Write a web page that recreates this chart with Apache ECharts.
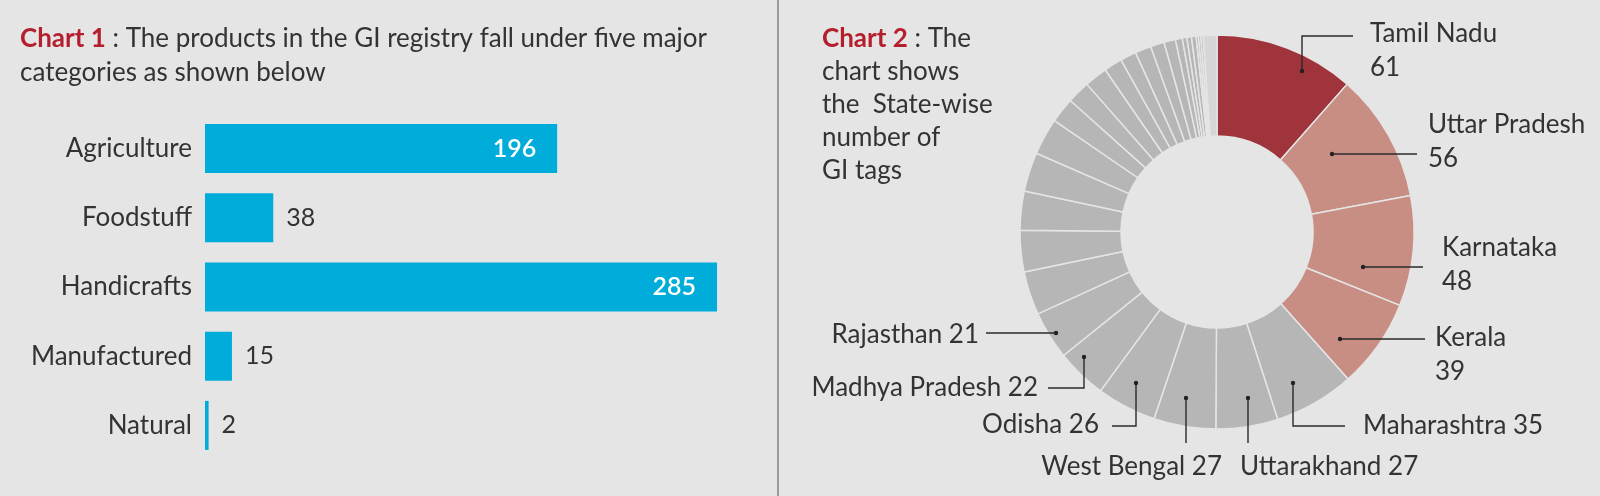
<!DOCTYPE html>
<html>
<head>
<meta charset="utf-8">
<script src="https://cdn.jsdelivr.net/npm/echarts@6/dist/echarts.min.js"></script>
<style>
html,body{margin:0;padding:0;background:#e5e5e5;}
#c{width:1600px;height:496px;}
</style>
</head>
<body>
<div id="c"></div>
<script>
// ---- Chart 1 data ----
const categories = ['Agriculture', 'Foodstuff', 'Handicrafts', 'Manufactured', 'Natural'];
const categoryCounts = [196, 38, 285, 15, 2];

// ---- Chart 2 data ----
const states = ['Tamil Nadu', 'Uttar Pradesh', 'Karnataka', 'Kerala', 'Maharashtra',
  'Uttarakhand', 'West Bengal', 'Odisha', 'Madhya Pradesh', 'Rajasthan',
  'Andhra Pradesh', 'Gujarat', 'Telangana', 'Assam', 'Jammu & Kashmir',
  'Himachal Pradesh', 'Manipur', 'Bihar', 'Goa', 'Meghalaya', 'Nagaland',
  'Arunachal Pradesh', 'Mizoram', 'Punjab', 'Tripura', 'Sikkim', 'Jharkhand',
  'Chhattisgarh', 'Ladakh', 'Puducherry', 'Other'];
const stateTags = [61, 56, 48, 39, 35, 27, 27, 26, 22, 21,
  19, 18, 17, 17, 16, 11, 10, 10, 8, 7, 7, 6, 5, 3, 2, 2, 2, 1, 1, 1, 6];
const labelledCount = 10;
const twoLineCount = 4;

// ---- styling / layout ----
const FONT = 'Lato';
const TXT = '#333333';
const RED = '#b41e2d';
const BAR = '#00acd9';
const sliceColor = i => i === 0 ? '#a0343c' : (i < 4 ? '#c88e84' : (i === stateTags.length - 1 ? '#d6d6d6' : '#b5b6b5'));

// label placement for the donut (pixel layout)
const spots = [
  {x: 1370, y: 51, align: 'left', pts: [[1302, 71], [1302, 36], [1353, 36]]},
  {x: 1428, y: 142, align: 'left', pts: [[1332, 154], [1417, 154]]},
  {x: 1442, y: 265, align: 'left', pts: [[1363, 267], [1423, 267]]},
  {x: 1435, y: 355, align: 'left', pts: [[1340, 339], [1425, 339]]},
  {x: 1363, y: 426, align: 'left', pts: [[1293, 383], [1293, 426], [1345, 426]]},
  {x: 1240, y: 467, align: 'left', pts: [[1248, 398], [1248, 443]]},
  {x: 1222, y: 467, align: 'right', pts: [[1186, 398], [1186, 443]]},
  {x: 1099, y: 425, align: 'right', pts: [[1136, 383], [1136, 426], [1112, 426]]},
  {x: 1038, y: 388, align: 'right', pts: [[1084, 357], [1084, 388], [1048, 388]]},
  {x: 979, y: 335, align: 'right', pts: [[1056, 333], [986, 333]]}
];

const chart = echarts.init(document.getElementById('c'), null, {renderer: 'canvas'});

const barData = categoryCounts.map(v => ({
  value: v,
  label: v >= 100
    ? {position: 'insideRight', distance: 21, color: '#ffffff', fontWeight: 600}
    : {position: 'right', distance: 13, color: TXT}
}));

const pieData = states.map((s, i) => ({
  name: s,
  value: stateTags[i],
  itemStyle: {color: sliceColor(i)},
  label: {show: i < labelledCount}
}));

const leaders = [];
spots.forEach(s => {
  leaders.push({
    type: 'polyline', shape: {points: s.pts},
    style: {stroke: '#2a2a2a', lineWidth: 1.4, fill: null}, z: 100
  });
  leaders.push({
    type: 'circle', shape: {cx: s.pts[0][0], cy: s.pts[0][1], r: 2.2},
    style: {fill: '#222'}, z: 101
  });
});

chart.setOption({
  backgroundColor: '#e5e5e5',
  animation: false,
  textStyle: {fontFamily: FONT},
  title: [
    {
      text: '{r|Chart 1} : The products in the GI registry fall under five major\ncategories as shown below',
      left: 20, top: 22, padding: 0,
      textStyle: {
        fontFamily: FONT, fontSize: 26, fontWeight: 'normal', color: TXT, lineHeight: 34,
        rich: {r: {color: RED, fontWeight: 'bold', fontFamily: FONT, fontSize: 26, lineHeight: 34}}
      }
    },
    {
      text: '{r|Chart 2} : The\nchart shows\nthe  State-wise\nnumber of\nGI tags',
      left: 822, top: 22, padding: 0,
      textStyle: {
        fontFamily: FONT, fontSize: 26, fontWeight: 'normal', color: TXT, lineHeight: 33,
        rich: {r: {color: RED, fontWeight: 'bold', fontFamily: FONT, fontSize: 26, lineHeight: 33}}
      }
    }
  ],
  grid: {left: 205, top: 114, width: 539, height: 346, containLabel: false},
  xAxis: {type: 'value', min: 0, max: 300, show: false},
  yAxis: {
    type: 'category', data: categories, inverse: true,
    axisLine: {show: false}, axisTick: {show: false}, splitLine: {show: false},
    axisLabel: {fontFamily: FONT, fontSize: 26, color: TXT, margin: 13}
  },
  series: [
    {
      type: 'bar',
      data: barData,
      barWidth: 49,
      itemStyle: {color: BAR},
      silent: true,
      label: {show: true, fontFamily: FONT, fontSize: 25}
    },
    {
      type: 'pie',
      center: [1217, 232],
      radius: [96, 197],
      startAngle: 90,
      clockwise: true,
      avoidLabelOverlap: false,
      silent: true,
      data: pieData,
      itemStyle: {borderColor: '#e5e5e5', borderWidth: 1.5},
      label: {
        show: true,
        fontFamily: FONT, fontSize: 26, color: TXT, lineHeight: 34,
        formatter: p => p.dataIndex < twoLineCount ? p.name + '\n' + p.value : p.name + ' ' + p.value
      },
      labelLine: {show: false},
      labelLayout: function (params) {
        const s = spots[params.dataIndex];
        if (!s) return {};
        return {x: s.x, y: s.y, align: s.align, verticalAlign: 'middle'};
      }
    }
  ],
  graphic: [
    {type: 'line', shape: {x1: 778, y1: 0, x2: 778, y2: 496}, style: {stroke: '#9a9a9a', lineWidth: 2}}
  ].concat(leaders)
});
</script>
</body>
</html>
